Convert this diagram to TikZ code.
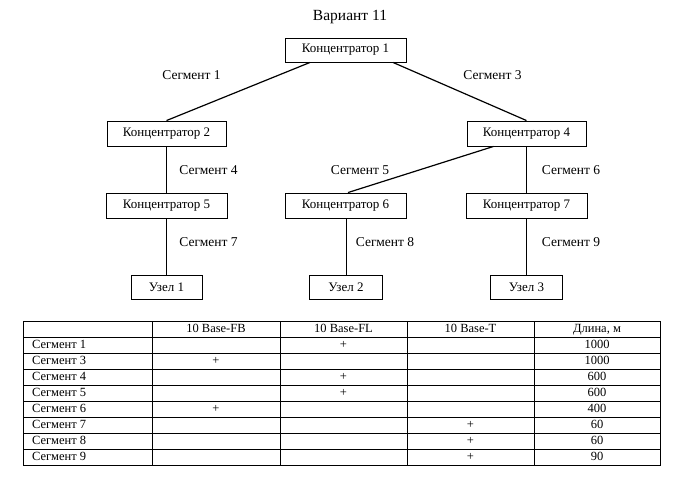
\documentclass[tikz,border=0pt]{standalone}
\usepackage{fontspec}
\setmainfont{Liberation Serif}
\usetikzlibrary{calc}
\begin{document}
\begin{tikzpicture}[x=1bp,y=-1bp,
  box/.style={draw,line width=0.9bp,inner sep=0pt,minimum height=24bp,font=\fontsize{13bp}{15bp}\selectfont},
  seg/.style={inner sep=0pt,font=\fontsize{13.5bp}{15bp}\selectfont},
  link/.style={line width=1.2bp},
  cell/.style={inner sep=0pt,text height=9bp,text depth=3bp,font=\fontsize{12.5bp}{14bp}\selectfont},
  grid/.style={line width=0.7bp}]
\useasboundingbox (0,0) rectangle (676,484);
\node[inner sep=0pt,font=\fontsize{15.5bp}{17bp}\selectfont] (title) at (350,17) {Вариант 11};
% hubs
\node[box,minimum width=121bp] (k1) at (345.5,50) {Концентратор 1};
\node[box,minimum width=119bp,minimum height=25bp] (k2) at (166.5,133.5) {Концентратор 2};
\node[box,minimum width=119bp,minimum height=25bp] (k4) at (526.5,133.5) {Концентратор 4};
\node[box,minimum width=121bp,minimum height=25bp] (k5) at (166.5,205.5) {Концентратор 5};
\node[box,minimum width=121bp,minimum height=25bp] (k6) at (345.5,205.5) {Концентратор 6};
\node[box,minimum width=121bp,minimum height=25bp] (k7) at (526.5,205.5) {Концентратор 7};
\node[box,minimum width=71bp] (u1) at (166.5,287) {Узел 1};
\node[box,minimum width=73bp] (u2) at (346,287) {Узел 2};
\node[box,minimum width=72bp] (u3) at (526.5,287) {Узел 3};
% connectors
\draw[link] ([xshift=-35.5bp]k1.south) -- (k2.north);
\draw[link] ([xshift=47.5bp]k1.south) -- (k4.north);
\draw[link] (k2.south) -- (k5.north);
\draw[link] ([xshift=-33bp]k4.south) -- ([xshift=2.5bp]k6.north);
\draw[link] (k4.south) -- (k7.north);
\draw[link] (k5.south) -- (u1.north);
\draw[link] ([xshift=1bp]k6.south) -- ([xshift=0.5bp]u2.north);
\draw[link] (k7.south) -- (u3.north);
% segment labels
\node[seg] (s1) at (191.5,75) {Сегмент 1};
\node[seg] (s3) at (492.5,75) {Сегмент 3};
\node[seg] (s4) at (208.5,170) {Сегмент 4};
\node[seg] (s5) at (360,170) {Сегмент 5};
\node[seg] (s6) at (571,170) {Сегмент 6};
\node[seg] (s7) at (208.5,242) {Сегмент 7};
\node[seg] (s8) at (385,242) {Сегмент 8};
\node[seg] (s9) at (571,242) {Сегмент 9};
% table grid
\draw[grid] (23,321) rectangle (660,465);
\foreach \y in {337,353,369,385,401,417,433,449} \draw[grid] (23,\y) -- (660,\y);
\foreach \x in {152,280,407,534} \draw[grid] (\x,321) -- (\x,465);
% header
\node[cell] (h1) at (216,329) {10 Base-FB};
\node[cell] (h2) at (343.5,329) {10 Base-FL};
\node[cell] (h3) at (470.5,329) {10 Base-T};
\node[cell] (h4) at (597,329) {Длина, м};
% rows
\foreach \n/\lab/\px/\len [count=\i] in {r1/Сегмент 1/343.5/1000, r3/Сегмент 3/216/1000, r4/Сегмент 4/343.5/600, r5/Сегмент 5/343.5/600, r6/Сегмент 6/216/400, r7/Сегмент 7/470.5/60, r8/Сегмент 8/470.5/60, r9/Сегмент 9/470.5/90}{
  \node[cell,anchor=west] (\n name) at (32,329+16*\i) {\lab};
  \node[cell] (\n plus) at (\px,329+16*\i) {+};
  \node[cell] (\n len) at (597,329+16*\i) {\len};
}
\end{tikzpicture}
\end{document}
